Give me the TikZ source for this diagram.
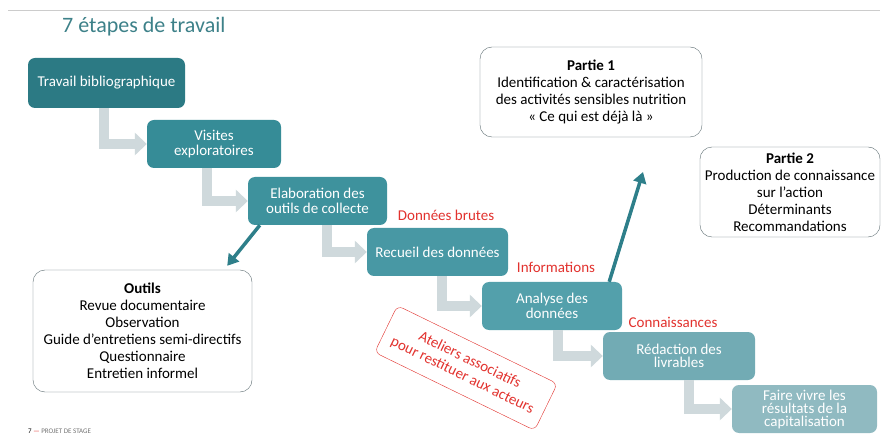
\documentclass[tikz,border=0pt]{standalone}
\usepackage{fontspec}
\setmainfont{Carlito}
\usetikzlibrary{positioning, arrows.meta, calc}

\definecolor{tealtitle}{HTML}{3D8189}
\definecolor{stepA}{HTML}{2C7A84}
\definecolor{stepB}{HTML}{368C97}
\definecolor{stepC}{HTML}{3E929D}
\definecolor{stepD}{HTML}{4898A4}
\definecolor{stepE}{HTML}{53A0AB}
\definecolor{stepF}{HTML}{72ABB4}
\definecolor{stepG}{HTML}{90BAC1}
\definecolor{grayarrow}{HTML}{CFD9DC}
\definecolor{linkteal}{HTML}{2E7F8A}
\definecolor{redtext}{HTML}{E2322E}
\definecolor{boxline}{HTML}{5E6E72}

\begin{document}
\begin{tikzpicture}[
    x=1pt, y=-1pt,
    every node/.style={font=\fontsize{15}{17}\selectfont, align=center, inner sep=0pt},
    stepbox/.style={rounded corners=7pt, text=white, minimum height=48pt, font=\fontsize{15}{15}\selectfont},
    steparrow/.style={draw=grayarrow, line width=10pt, line join=miter, -{Triangle[width=22pt,length=12pt]}},
    linkarrow/.style={draw=linkteal, line width=3.5pt, -{Triangle[width=13pt,length=11pt]}},
    infobox/.style={draw=boxline, rounded corners=12pt, fill=white},
    redlabel/.style={text=redtext}
]

\fill[white] (0,0) rectangle (885,435);
\useasboundingbox (0,0) rectangle (885,435);

% Titre
\draw[black!20, line width=0.8pt] (8,10) -- (880,10);
\node[text=tealtitle, font=\fontsize{22}{26}\selectfont, anchor=base west] (title) at (62,33) {7 étapes de travail};

% Etapes
\node[stepbox, fill=stepA, minimum width=157pt, minimum height=50pt] (s1) at (106.5,83) {Travail bibliographique};
\node[stepbox, fill=stepB, minimum width=134pt] (s2) at (214,144) {Visites\\exploratoires};
\node[stepbox, fill=stepC, minimum width=139pt] (s3) at (317.5,201) {Elaboration des\\outils de collecte};
\node[stepbox, fill=stepD, minimum width=141pt] (s4) at (437.5,252) {Recueil des données};
\node[stepbox, fill=stepE, minimum width=140pt] (s5) at (552,306) {Analyse des\\données};
\node[stepbox, fill=stepF, minimum width=152pt, font=\fontsize{15}{13}\selectfont] (s6) at (679,356) {Rédaction des\\livrables};
\node[stepbox, fill=stepG, minimum width=145pt, font=\fontsize{15}{13}\selectfont] (s7) at (804.5,409) {Faire vivre les\\résultats de la\\capitalisation};

% Fleches entre etapes
\draw[steparrow] ([xshift=76pt]s1.south west) |- (s2.west);
\draw[steparrow] ([xshift=60pt]s2.south west) |- (s3.west);
\draw[steparrow] ([xshift=79pt]s3.south west) |- (s4.west);
\draw[steparrow] ([xshift=75pt]s4.south west) |- (s5.west);
\draw[steparrow] ([xshift=76pt]s5.south west) |- (s6.west);
\draw[steparrow] ([xshift=86pt]s6.south west) |- (s7.west);

% Encadres
\node[infobox, minimum width=219pt, minimum height=122pt] (outils) at (142.5,331) {%
  \textbf{Outils}\\Revue documentaire\\Observation\\Guide d’entretiens semi-directifs\\Questionnaire\\Entretien informel};
\node[infobox, minimum width=222pt, minimum height=90pt] (partie1) at (591,92) {%
  \textbf{Partie 1}\\Identification \& caractérisation\\des activités sensibles nutrition\\« Ce qui est déjà là  »};
\node[infobox, minimum width=180pt, minimum height=90pt] (partie2) at (790,192) {%
  \textbf{Partie 2}\\Production de connaissance\\sur l’action\\Déterminants\\Recommandations};

% Etiquettes rouges
\node[redlabel] (brutes) at (446,215) {Données brutes};
\node[redlabel] (infos) at (556,267) {Informations};
\node[redlabel] (connais) at (673,322) {Connaissances};
\node[redlabel, draw=redtext, rounded corners=6pt, rotate=-26, minimum width=178pt, minimum height=52pt] (ateliers) at (466,368) {Ateliers associatifs\\pour restituer aux acteurs};

% Fleches bleues
\coordinate (p1tip) at (643,172);
\draw[linkarrow] ([xshift=12pt]s3.south west) -- ([xshift=-25pt,yshift=4pt]outils.north east);
\draw[linkarrow] ([xshift=-13pt]s5.north east) -- (p1tip);

% Pied de page
\node[anchor=base west, font=\fontsize{7}{8}\selectfont, text=black!55] (footer) at (28,433) {\textcolor{black}{7} \textcolor{redtext}{—} PROJET DE STAGE};

\end{tikzpicture}
\end{document}
